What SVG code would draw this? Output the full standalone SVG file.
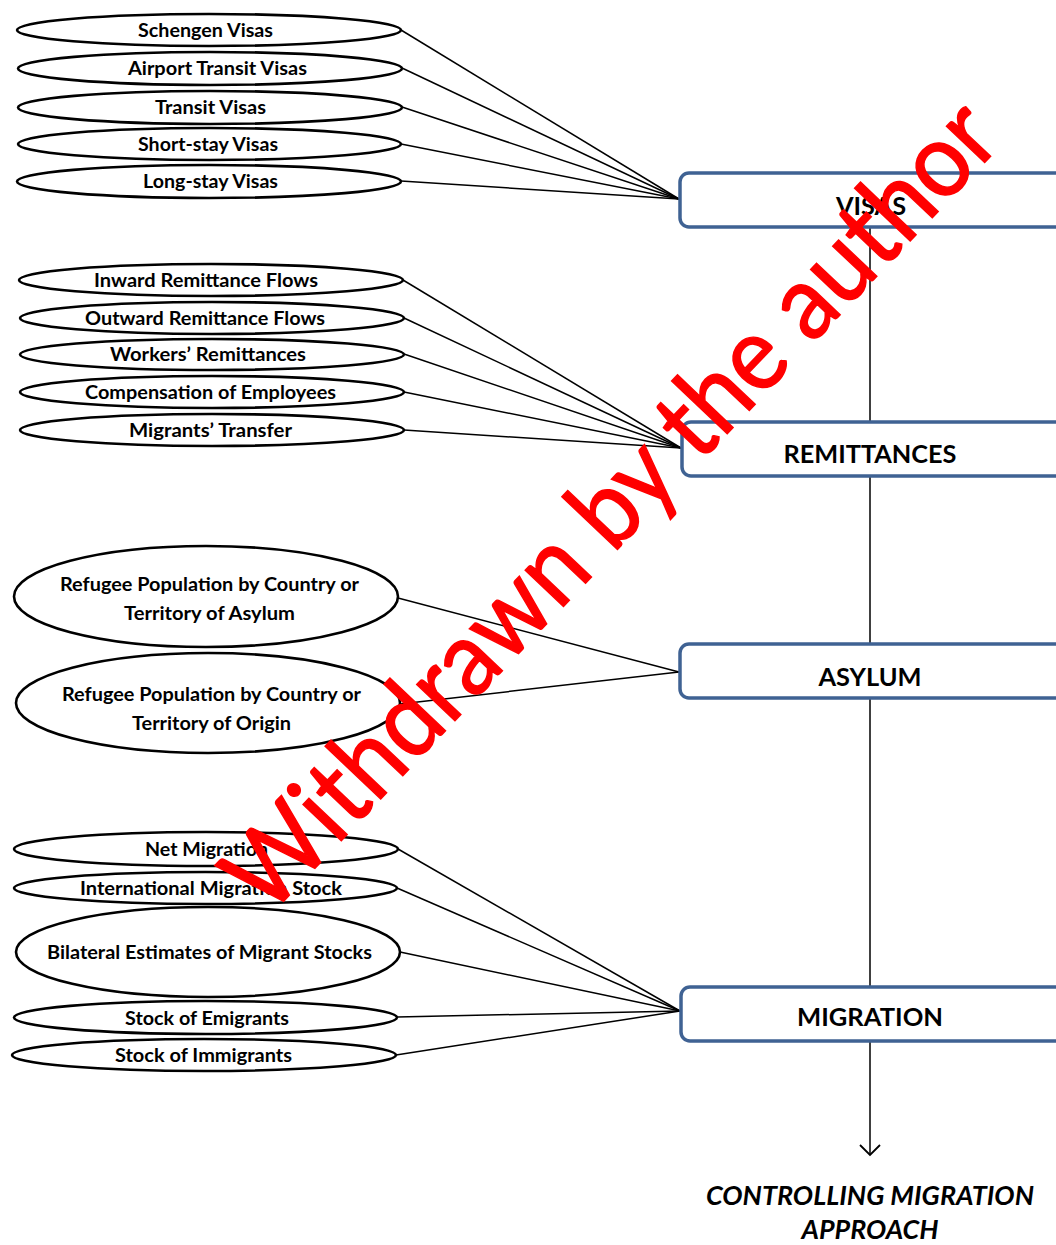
<svg xmlns="http://www.w3.org/2000/svg" width="1056" height="1245" viewBox="0 0 1056 1245">
<defs>
<style>
.el{fill:#fff;stroke:#000;stroke-width:2.6}
.lb{font-family:Lato,"Open Sans","Liberation Sans",sans-serif;font-weight:bold;font-size:18px;fill:#000;text-anchor:middle}
.bx{fill:#fff;stroke:#3F6293;stroke-width:3.5}
.bt{font-family:Lato,"Open Sans","Liberation Sans",sans-serif;font-weight:bold;font-size:25px;fill:#000;text-anchor:middle}
.cn{stroke:#000;stroke-width:1.5;fill:none}
.ft{font-family:Lato,"Open Sans","Liberation Sans",sans-serif;font-weight:bold;font-style:italic;font-size:27px;fill:#000;text-anchor:middle}
.wm{font-family:Lato,"Open Sans","Liberation Sans",sans-serif;font-size:104px;fill:#FF0000;stroke:#FF0000;stroke-width:1.5;text-anchor:middle}
</style>
<marker id="arr" markerWidth="22" markerHeight="22" refX="11" refY="11" orient="auto" markerUnits="userSpaceOnUse">
<path d="M1,1 L11,11 L1,21" fill="none" stroke="#000" stroke-width="1.8"/>
</marker>
</defs>
<rect width="1056" height="1245" fill="#fff"/>

<g id="connectors">
<line class="cn" x1="870" y1="227" x2="870" y2="1155" marker-end="url(#arr)"/>
<line class="cn" x1="401" y1="30" x2="679" y2="199"/>
<line class="cn" x1="402" y1="68" x2="679" y2="199"/>
<line class="cn" x1="402" y1="107" x2="679" y2="199"/>
<line class="cn" x1="401" y1="144" x2="679" y2="199"/>
<line class="cn" x1="401" y1="181" x2="679" y2="199"/>
<line class="cn" x1="403" y1="280" x2="681" y2="448"/>
<line class="cn" x1="404" y1="318" x2="681" y2="448"/>
<line class="cn" x1="404" y1="354" x2="681" y2="448"/>
<line class="cn" x1="404" y1="392" x2="681" y2="448"/>
<line class="cn" x1="404" y1="430" x2="681" y2="448"/>
<line class="cn" x1="398" y1="598" x2="679" y2="672"/>
<line class="cn" x1="400" y1="704" x2="679" y2="672"/>
<line class="cn" x1="398" y1="849" x2="680" y2="1011"/>
<line class="cn" x1="397" y1="888" x2="680" y2="1011"/>
<line class="cn" x1="400" y1="952" x2="680" y2="1011"/>
<line class="cn" x1="397" y1="1017" x2="680" y2="1011"/>
<line class="cn" x1="396" y1="1055" x2="680" y2="1011"/>
</g>

<g id="visas"><rect class="bx" x="680" y="173" width="400" height="54" rx="9"/><text class="bt" x="871" y="215" textLength="70" lengthAdjust="spacingAndGlyphs">VISAS</text></g>
<g id="remittances"><rect class="bx" x="682" y="422" width="400" height="54" rx="9"/><text class="bt" x="870" y="463" textLength="173" lengthAdjust="spacingAndGlyphs">REMITTANCES</text></g>
<g id="asylum"><rect class="bx" x="680" y="644" width="400" height="54" rx="9"/><text class="bt" x="870" y="686" textLength="103" lengthAdjust="spacingAndGlyphs">ASYLUM</text></g>
<g id="migration"><rect class="bx" x="681" y="987" width="400" height="54" rx="9"/><text class="bt" x="870" y="1026" textLength="146" lengthAdjust="spacingAndGlyphs">MIGRATION</text></g>

<g id="schengen"><ellipse class="el" cx="209" cy="30" rx="192" ry="16"/><text class="lb" x="205.5" y="37" textLength="135" lengthAdjust="spacingAndGlyphs">Schengen Visas</text></g>
<g id="airport"><ellipse class="el" cx="210" cy="68.5" rx="192" ry="16.5"/><text class="lb" x="217.5" y="75" textLength="179" lengthAdjust="spacingAndGlyphs">Airport Transit Visas</text></g>
<g id="transit"><ellipse class="el" cx="210" cy="107.5" rx="192" ry="16.5"/><text class="lb" x="210.5" y="114" textLength="111" lengthAdjust="spacingAndGlyphs">Transit Visas</text></g>
<g id="shortstay"><ellipse class="el" cx="209.5" cy="144" rx="191.5" ry="16"/><text class="lb" x="208" y="151" textLength="140" lengthAdjust="spacingAndGlyphs">Short-stay Visas</text></g>
<g id="longstay"><ellipse class="el" cx="209" cy="181.5" rx="192" ry="16.5"/><text class="lb" x="210.5" y="188" textLength="135" lengthAdjust="spacingAndGlyphs">Long-stay Visas</text></g>

<g id="inward"><ellipse class="el" cx="211" cy="280" rx="192" ry="16"/><text class="lb" x="206" y="287" textLength="224" lengthAdjust="spacingAndGlyphs">Inward Remittance Flows</text></g>
<g id="outward"><ellipse class="el" cx="212" cy="318" rx="192" ry="16"/><text class="lb" x="205" y="325" textLength="240" lengthAdjust="spacingAndGlyphs">Outward Remittance Flows</text></g>
<g id="workers"><ellipse class="el" cx="212" cy="354.5" rx="192" ry="15.5"/><text class="lb" x="208" y="361" textLength="196" lengthAdjust="spacingAndGlyphs">Workers’ Remittances</text></g>
<g id="compensation"><ellipse class="el" cx="212" cy="392" rx="192" ry="16"/><text class="lb" x="210.5" y="399" textLength="251" lengthAdjust="spacingAndGlyphs">Compensation of Employees</text></g>
<g id="migrants"><ellipse class="el" cx="212" cy="430" rx="192" ry="16"/><text class="lb" x="210.5" y="437" textLength="163" lengthAdjust="spacingAndGlyphs">Migrants’ Transfer</text></g>

<g id="asylum-country"><ellipse class="el" cx="206" cy="596.5" rx="192" ry="50.5"/><text class="lb" x="209.5" y="591" textLength="299" lengthAdjust="spacingAndGlyphs">Refugee Population by Country or</text><text class="lb" x="209.5" y="620" textLength="171" lengthAdjust="spacingAndGlyphs">Territory of Asylum</text></g>
<g id="origin-country"><ellipse class="el" cx="208" cy="703" rx="192" ry="50"/><text class="lb" x="211.5" y="701" textLength="299" lengthAdjust="spacingAndGlyphs">Refugee Population by Country or</text><text class="lb" x="211.5" y="730" textLength="159" lengthAdjust="spacingAndGlyphs">Territory of Origin</text></g>

<g id="net"><ellipse class="el" cx="206" cy="849" rx="192" ry="17"/><text class="lb" x="206.5" y="856" textLength="123" lengthAdjust="spacingAndGlyphs">Net Migration</text></g>
<g id="intl"><ellipse class="el" cx="205.5" cy="888" rx="191.5" ry="16"/><text class="lb" x="211" y="895" textLength="262" lengthAdjust="spacingAndGlyphs">International Migration Stock</text></g>
<g id="bilateral"><ellipse class="el" cx="208" cy="952" rx="192" ry="45"/><text class="lb" x="209.5" y="959" textLength="325" lengthAdjust="spacingAndGlyphs">Bilateral Estimates of Migrant Stocks</text></g>
<g id="emigrants"><ellipse class="el" cx="205.5" cy="1017.5" rx="191.5" ry="16.5"/><text class="lb" x="207" y="1025" textLength="164" lengthAdjust="spacingAndGlyphs">Stock of Emigrants</text></g>
<g id="immigrants"><ellipse class="el" cx="204" cy="1055" rx="192" ry="16"/><text class="lb" x="203.5" y="1062" textLength="177" lengthAdjust="spacingAndGlyphs">Stock of Immigrants</text></g>

<g id="result"><text class="ft" x="870" y="1205" textLength="328" lengthAdjust="spacingAndGlyphs">CONTROLLING MIGRATION</text><text class="ft" x="870" y="1239" textLength="137" lengthAdjust="spacingAndGlyphs">APPROACH</text></g>

<text class="wm" transform="translate(636,530) rotate(-46.5)" x="0" y="0" textLength="1070" lengthAdjust="spacingAndGlyphs">Withdrawn by the author</text>
</svg>
